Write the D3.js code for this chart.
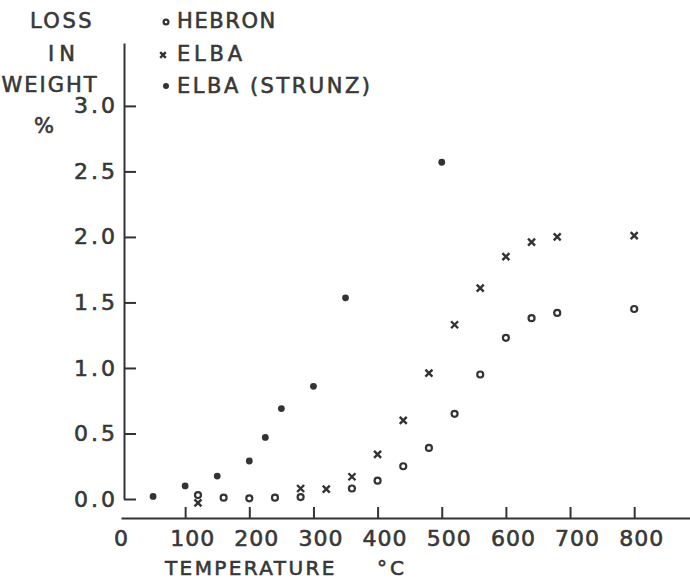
<!DOCTYPE html>
<html>
<head>
<meta charset="utf-8">
<script src="https://cdn.jsdelivr.net/npm/d3@7"></script>
<style>
  body { margin: 0; background: #fff; }
  svg { display: block; }
  text { font-family: "DejaVu Sans", sans-serif; fill: #383838; stroke: #383838; stroke-width: 0.6px; }
</style>
</head>
<body>
<svg></svg>
<script>
// values
const hebronT = [120, 160, 200, 240, 280, 360, 400, 440, 480, 520, 560, 600, 640, 680, 800];
const hebronLoss = [0.03, 0.01, 0.005, 0.01, 0.015, 0.08, 0.14, 0.25, 0.39, 0.65, 0.95, 1.23, 1.38, 1.42, 1.45];

const elbaT = [120, 280, 320, 360, 400, 440, 480, 520, 560, 600, 640, 680, 800];
const elbaLoss = [-0.03, 0.08, 0.075, 0.17, 0.34, 0.6, 0.96, 1.33, 1.61, 1.85, 1.96, 2.0, 2.01];

const strunzT = [50, 100, 150, 200, 225, 250, 300, 350, 500];
const strunzLoss = [0.02, 0.1, 0.175, 0.29, 0.47, 0.69, 0.86, 1.535, 2.57];

const seriesNames = ["HEBRON", "ELBA", "ELBA (STRUNZ)"];
const xTicks = [0, 100, 200, 300, 400, 500, 600, 700, 800];
const yTicks = [0, 0.5, 1.0, 1.5, 2.0, 2.5, 3.0];

const ink = "#333";

const svg = d3.select("svg").attr("width", 690).attr("height", 579);

const x = d3.scaleLinear().domain([0, 887]).range([121, 690]);
const y = d3.scaleLinear().domain([0, 3.48]).range([499, 43]);

// y axis, ticks pointing inward
const yAxis = d3.axisLeft(y)
  .tickValues(yTicks)
  .tickFormat(d3.format(".1f"))
  .tickSize(-12)
  .tickSizeOuter(0)
  .tickPadding(6);

const gy = svg.append("g").attr("transform", "translate(124,0)").call(yAxis);
gy.select(".domain").attr("stroke", ink).attr("stroke-width", 2);
gy.selectAll(".tick line").attr("stroke", ink).attr("stroke-width", 2);
gy.selectAll(".tick text")
  .attr("font-size", 22)
  .attr("letter-spacing", 3)
  .attr("fill", "#383838")
  .attr("font-family", "DejaVu Sans");

// x axis, sits a little below the y axis end
const xAxis = d3.axisBottom(x)
  .tickValues(xTicks)
  .tickFormat(d3.format("d"))
  .tickSize(-11)
  .tickSizeOuter(0)
  .tickPadding(12);

const gx = svg.append("g").attr("transform", "translate(0,518)").call(xAxis);
gx.select(".domain").attr("stroke", ink).attr("stroke-width", 2);
gx.selectAll(".tick line")
  .attr("stroke", ink)
  .attr("stroke-width", 2)
  .attr("display", d => (d === 0 ? "none" : null));
gx.selectAll(".tick text")
  .attr("font-size", 22)
  .attr("letter-spacing", 1)
  .attr("dx", d => (d === 0 ? 0 : 7))
  .attr("fill", "#383838")
  .attr("font-family", "DejaVu Sans");

// axis titles
const yTitle = [
  { t: "LOSS", x: 62, y: 28, ls: 2.5 },
  { t: "IN", x: 64, y: 61, ls: 5 },
  { t: "WEIGHT", x: 50, y: 92, ls: 2 },
  { t: "%", x: 44, y: 133, ls: 0 }
];
svg.selectAll("text.ytitle")
  .data(yTitle)
  .enter()
  .append("text")
  .attr("class", "ytitle")
  .attr("x", d => d.x)
  .attr("y", d => d.y)
  .attr("text-anchor", "middle")
  .attr("font-size", 21)
  .attr("letter-spacing", d => d.ls)
  .text(d => d.t);

svg.append("text")
  .attr("x", 165)
  .attr("y", 575)
  .attr("font-size", 20)
  .attr("letter-spacing", 2.4)
  .text("TEMPERATURE");

svg.append("text")
  .attr("x", 377)
  .attr("y", 575)
  .attr("font-size", 20)
  .attr("letter-spacing", 3)
  .text("°C");

// markers
const drawCircle = function(g, px, py, r) {
  g.append("circle")
    .attr("cx", px)
    .attr("cy", py)
    .attr("r", r)
    .attr("fill", "none")
    .attr("stroke", ink)
    .attr("stroke-width", 2.2);
};

const drawCross = function(g, px, py, s) {
  g.append("path")
    .attr("d", `M${px - s},${py - s}L${px + s},${py + s}M${px - s},${py + s}L${px + s},${py - s}`)
    .attr("stroke", ink)
    .attr("stroke-width", 2.4)
    .attr("fill", "none");
};

const drawDot = function(g, px, py, r) {
  g.append("circle")
    .attr("cx", px)
    .attr("cy", py)
    .attr("r", r)
    .attr("fill", ink);
};

const marks = svg.append("g");

hebronT.forEach((t, i) => drawCircle(marks, x(t), y(hebronLoss[i]), 3));
elbaT.forEach((t, i) => drawCross(marks, x(t), y(elbaLoss[i]), 3.5));
strunzT.forEach((t, i) => drawDot(marks, x(t), y(strunzLoss[i]), 3.4));

// legend
const legend = svg.append("g");
const legendRows = [28, 61, 93];
const legendSpacing = [1.6, 3.8, 2.5];

seriesNames.forEach((name, i) => {
  const by = legendRows[i];
  if (i === 0) drawCircle(legend, 166, by - 6, 2.4);
  if (i === 1) drawCross(legend, 163, by - 6, 2.8);
  if (i === 2) drawDot(legend, 166, by - 7, 3);

  legend.append("text")
    .attr("x", 177)
    .attr("y", by)
    .attr("font-size", 21)
    .attr("letter-spacing", legendSpacing[i])
    .text(name);
});
</script>
</body>
</html>
